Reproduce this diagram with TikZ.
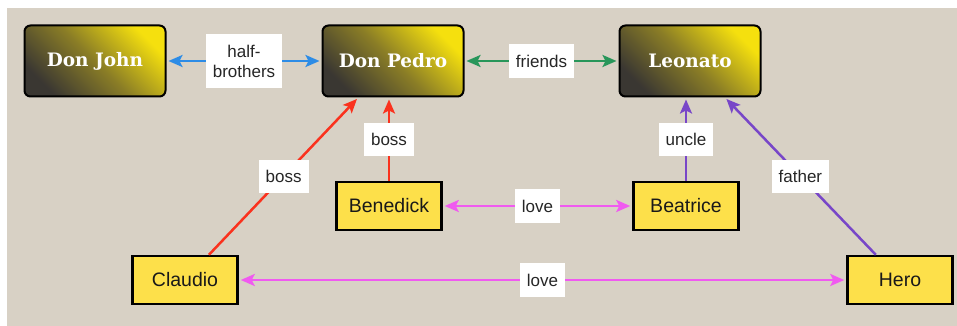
\documentclass[tikz,border=0pt]{standalone}
\usepackage{fontspec}
\setmainfont{Liberation Sans}
\newfontfamily\slabfont{DejaVu Serif}
\usepackage{tikz}
\usetikzlibrary{arrows.meta}
\usepackage{xcolor}
\definecolor{leafbg}{RGB}{216,209,197}
\definecolor{goldhi}{RGB}{245,224,14}
\definecolor{goldmid}{RGB}{138,125,38}
\definecolor{goldlo}{RGB}{58,55,50}
\definecolor{castfill}{RGB}{253,224,74}
\definecolor{rblue}{RGB}{45,140,230}
\definecolor{rgreen}{RGB}{40,150,90}
\definecolor{rred}{RGB}{250,50,30}
\definecolor{rpurple}{RGB}{120,70,200}
\definecolor{rpink}{RGB}{240,90,240}

\begin{document}
\begin{tikzpicture}[x=1pt, y=-1pt,
    lead/.style={draw, line width=2pt, rounded corners=6pt, top color=goldhi,
                 bottom color=goldlo, middle color=goldmid, shading angle=-45,
                 minimum width=141pt, minimum height=71pt, text=white,
                 font=\slabfont\bfseries\fontsize{18.5}{21}\selectfont},
    cast/.style={draw, line width=2.5pt, fill=castfill, minimum width=105pt,
                 minimum height=48pt, text=black!90,
                 font=\fontsize{19.5}{23}\selectfont},
    rel/.style={fill=white, inner xsep=7pt, inner ysep=10.3pt, align=center,
                text=black!85, font=\fontsize{17}{20}\selectfont},
    arr/.style={-{Stealth[length=14pt, width=12pt, inset=3pt]}, line width=2.5pt,
                shorten >=2pt},
    both/.style={{Stealth[length=14pt, width=12pt, inset=3pt]}-{Stealth[length=14pt, width=12pt, inset=3pt]},
                 line width=2.5pt, shorten >=2pt, shorten <=2pt}
]
\useasboundingbox (0,0) rectangle (957,326);
\fill[leafbg] (7,8) rectangle (957,326);

% Top row
\node[lead] (john) at (95, 61) {Don John};
\node[lead] (pedro) at (393, 61) {Don Pedro};
\node[lead] (leonato) at (690, 61) {Leonato};

% Lower row
\node[cast] (benedick) at (389, 206) {Benedick};
\node[cast] (beatrice) at (686, 206) {Beatrice};
\node[cast] (claudio) at (185, 280) {Claudio};
\node[cast] (hero) at (900, 280) {Hero};

% Relations
\draw[both, rblue] (pedro) -- node[rel] {half-\\brothers} (john);
\draw[both, rgreen] (pedro) -- node[rel] {friends} (leonato);
\draw[arr, rred] (claudio) -- node[rel] {boss} (pedro);
\draw[arr, rred] (benedick) -- node[rel] {boss} (benedick |- pedro.south);
\draw[arr, rpurple] (beatrice) -- node[rel] {uncle} (beatrice |- leonato.south);
\draw[arr, rpurple] (hero) -- node[rel] {father} (leonato);
\draw[both, rpink] (benedick) -- node[rel] {love} (beatrice);
\draw[both, rpink] (claudio) -- node[rel] {love} (hero);

\end{tikzpicture}
\end{document}
